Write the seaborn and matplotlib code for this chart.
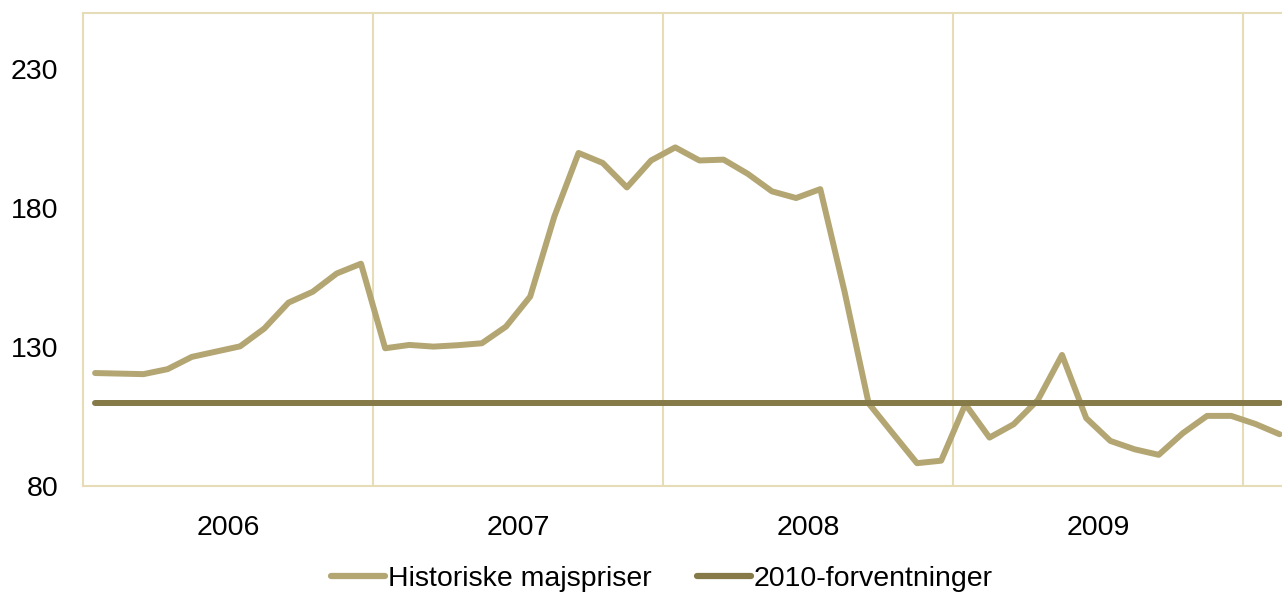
import matplotlib
matplotlib.use("Agg")
import matplotlib.pyplot as plt
import seaborn as sns
import pandas as pd
import numpy as np

# Monthly corn prices Jan 2006 - Feb 2010
historic = [120.6, 120.4, 120.2, 122.0, 126.4, 128.3, 130.2, 136.6, 145.9, 149.8, 156.4, 159.9,
            129.5, 130.7, 130.1, 130.6, 131.3, 137.3, 148.1, 176.9, 199.7, 196.1, 187.3, 197.0,
            201.7, 197.0, 197.3, 192.2, 185.9, 183.5, 186.7, 150.0, 109.7, 98.9, 88.2, 89.1,
            109.4, 97.4, 102.2, 110.9, 127.1, 104.4, 96.2, 93.2, 91.2, 99.0, 105.2, 105.2,
            102.3, 98.6]
expectation = [110.0] * len(historic)
years = ["2006", "2007", "2008", "2009"]
yticks = [80, 130, 180, 230]
series_names = ["Historiske majspriser", "2010-forventninger"]
colors = ["#B3A673", "#857A48"]

months = np.arange(len(historic))
df = pd.DataFrame({
    "month": np.concatenate([months, months]),
    "value": historic + expectation,
    "series": [series_names[0]] * len(historic) + [series_names[1]] * len(expectation),
})

sns.set_theme(style="white")
plt.rcParams["font.family"] = ["Liberation Sans", "DejaVu Sans"]
plt.rcParams["text.color"] = "black"

fig = plt.figure(figsize=(12.82, 5.94), dpi=100)
ax = fig.add_axes([83 / 1282, 1 - 486 / 594, 1 - 83 / 1282, (486 - 13) / 594])

sns.lineplot(data=df, x="month", y="value", hue="series", palette=colors,
             linewidth=4.3, ax=ax, legend=True, solid_capstyle="round")

grid_c = "#E6DDB8"
ax.set_xlim(-0.5, 49.1)
ax.set_ylim(80, 250)
for xb in [11.5, 23.5, 35.5, 47.5]:
    ax.axvline(xb, color=grid_c, linewidth=1.5, zorder=0)
for side in ["left", "bottom", "top"]:
    ax.spines[side].set_color(grid_c)
    ax.spines[side].set_linewidth(1.5)
ax.spines["right"].set_visible(False)

ax.set_yticks(yticks)
ax.set_yticklabels([str(t) for t in yticks])
ax.set_xticks([5.5 + 12 * i for i in range(len(years))])
ax.set_xticklabels(years)
ax.tick_params(axis="both", length=0, labelsize=20.5, colors="black")
ax.tick_params(axis="y", pad=18)
ax.tick_params(axis="x", pad=21)
ax.set_xlabel("")
ax.set_ylabel("")

handles, labels = ax.get_legend_handles_labels()
ax.get_legend().remove()
leg = fig.legend(handles, labels, loc="center", bbox_to_anchor=(662 / 1282, 1 - 579 / 594),
                 ncol=2, frameon=False, fontsize=20.5, handlelength=1.9,
                 handletextpad=0.1, columnspacing=1.6, borderpad=0, borderaxespad=0,
                 labelcolor="black")
for line in leg.get_lines():
    line.set_linewidth(4.5)

fig.savefig("out.png", dpi=100)
